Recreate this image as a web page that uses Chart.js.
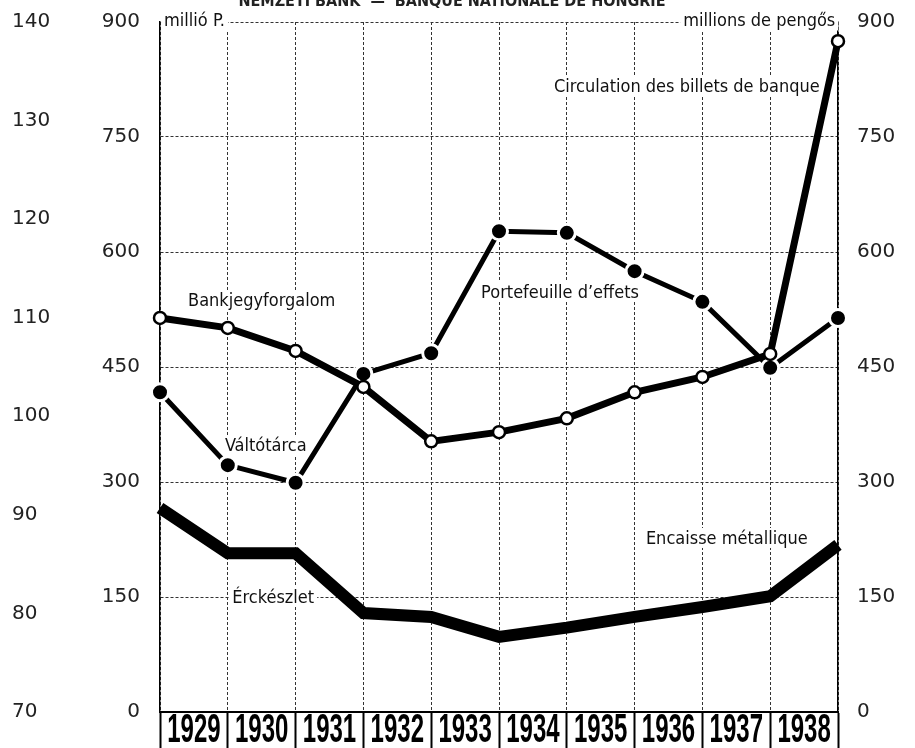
<!DOCTYPE html>
<html>
<head>
<meta charset="utf-8">
<title>Magyar Nemzeti Bank</title>
<script src="https://cdn.jsdelivr.net/npm/chart.js@4.4.1/dist/chart.umd.min.js"></script>
<style>
    html, body { margin: 0; padding: 0; background: #fff; }
    #wrap { width: 915px; height: 748px; }
</style>
</head>
<body>
<div id="wrap"><canvas id="mnbChart" width="915" height="748"></canvas></div>
<script>
// Adatok (millió pengő), év végi állapot: x = 0 -> 1928 vége, x = 10 -> 1938 vége
const years = ['1929', '1930', '1931', '1932', '1933', '1934', '1935', '1936', '1937', '1938'];
const yearEnds = [0, 1, 2, 3, 4, 5, 6, 7, 8, 9, 10];
const bankjegyforgalom = [514, 501, 471, 424, 353, 365, 383, 417, 437, 467, 875];
const valtotarca = [417, 322, 299, 441, 468, 627, 625, 575, 535, 449, 514];
const erckeszlet = [266, 207, 207, 129, 124, 98, 110, 124, 137, 151, 218];

// Tengely beosztások
const millioTicks = { min: 0, max: 900, step: 150 };
const indexTicks = { min: 70, max: 140, step: 10 };

const labelFont = '18px "Liberation Sans Narrow", "DejaVu Sans Condensed", "Arial Narrow", sans-serif';
const tickFont = { family: '"DejaVu Sans", sans-serif', size: 20 };

function toPoints(values) {
    return values.map((v, i) => ({ x: yearEnds[i], y: v }));
}

// Feliratok a rajzterületen (érték-koordinátákban)
const notes = [
    { text: 'Bankjegyforgalom', x: 1.50, y: 537, align: 'center' },
    { text: 'Váltótárca', x: 1.56, y: 348, align: 'center' },
    { text: 'Portefeuille d\u2019effets', x: 5.90, y: 548, align: 'center' },
    { text: 'Circulation des billets de banque', x: 9.73, y: 816, align: 'right' },
    { text: 'Encaisse métallique', x: 8.36, y: 227, align: 'center' },
    { text: 'Érckészlet', x: 1.67, y: 150, align: 'center' },
    { text: 'millió P.', x: 0.06, y: 902, align: 'left' },
    { text: 'millions de pengős', x: 9.96, y: 902, align: 'right' }
];

const notesPlugin = {
    id: 'notes',
    beforeDatasetsDraw(chart) {
        const ctx = chart.ctx;
        const xs = chart.scales.x;
        const ys = chart.scales.y;
        ctx.save();
        ctx.font = labelFont;
        ctx.textBaseline = 'middle';
        notes.forEach(n => {
            const px = xs.getPixelForValue(n.x);
            const py = ys.getPixelForValue(n.y);
            const w = ctx.measureText(n.text).width;
            let left = px;
            if (n.align === 'center') left = px - w / 2;
            if (n.align === 'right') left = px - w;
            ctx.fillStyle = '#fff';
            ctx.fillRect(left - 3, py - 10, w + 6, 20);
            ctx.fillStyle = '#111';
            ctx.textAlign = 'left';
            ctx.fillText(n.text, left, py + 1);
        });
        ctx.restore();
    },
    afterDraw(chart) {
        const ctx = chart.ctx;
        const xs = chart.scales.x;
        const bottom = chart.chartArea.bottom;
        ctx.save();
        // Évszámok a doboz-sávban
        ctx.fillStyle = '#000';
        ctx.textAlign = 'center';
        ctx.textBaseline = 'middle';
        ctx.font = 'bold 40px "Liberation Sans", Arial, sans-serif';
        years.forEach((yr, i) => {
            const cx = xs.getPixelForValue(yearEnds[i] + 0.5);
            ctx.save();
            ctx.translate(cx, bottom + 19);
            ctx.scale(0.6, 1);
            ctx.fillText(yr, 0, 0);
            ctx.restore();
        });
        // Levágott cím a kép tetején
        ctx.font = 'bold 16px "Liberation Sans Narrow", "DejaVu Sans Condensed", sans-serif';
        ctx.fillStyle = '#222';
        ctx.textBaseline = 'alphabetic';
        ctx.fillText('NEMZETI BANK  \u2014  BANQUE NATIONALE DE HONGRIE', 452, 6);
        ctx.restore();
    }
};

document.addEventListener('DOMContentLoaded', function() {
    const ctx = document.getElementById('mnbChart');

    new Chart(ctx.getContext('2d'), {
        type: 'line',
        data: {
            datasets: [{
                label: 'Bankjegyforgalom',
                data: toPoints(bankjegyforgalom),
                borderColor: '#000',
                borderWidth: 7,
                pointRadius: 6,
                pointBorderWidth: 2.5,
                pointBackgroundColor: '#fff',
                pointBorderColor: '#000',
                tension: 0,
                clip: false
            }, {
                label: 'Váltótárca',
                data: toPoints(valtotarca),
                borderColor: '#000',
                borderWidth: 5,
                pointRadius: 8.5,
                pointBorderWidth: 3,
                pointBackgroundColor: '#000',
                pointBorderColor: '#fff',
                tension: 0,
                clip: false
            }, {
                label: 'Érckészlet',
                data: toPoints(erckeszlet),
                borderColor: '#000',
                borderWidth: 12,
                pointRadius: 0,
                borderJoinStyle: 'miter',
                borderCapStyle: 'butt',
                tension: 0,
                clip: false
            }]
        },
        options: {
            responsive: false,
            animation: false,
            layout: { padding: { top: 22, left: 12, right: 0, bottom: 0 } },
            plugins: {
                legend: { display: false },
                tooltip: { enabled: false }
            },
            scales: {
                x: {
                    type: 'linear',
                    min: 0,
                    max: 10,
                    afterFit: s => { s.height = 36; },
                    ticks: { stepSize: 1, display: false, autoSkip: false },
                    grid: {
                        color: '#333',
                        lineWidth: 1,
                        drawTicks: true,
                        tickLength: 36,
                        tickColor: '#000',
                        tickWidth: 2
                    },
                    border: { display: true, color: '#000', width: 2, dash: [3, 2] }
                },
                y: {
                    type: 'linear',
                    position: 'left',
                    weight: 0,
                    min: millioTicks.min,
                    max: millioTicks.max,
                    afterFit: s => { s.width = 78; },
                    ticks: { stepSize: millioTicks.step, padding: 0, color: '#222', font: tickFont },
                    grid: { color: '#333', lineWidth: 1, drawTicks: true, tickLength: 20, tickColor: 'transparent' },
                    border: { display: true, color: '#000', width: 1.5, dash: [3, 2] }
                },
                y2: {
                    type: 'linear',
                    position: 'left',
                    weight: 1,
                    min: indexTicks.min,
                    max: indexTicks.max,
                    afterFit: s => { s.width = 70; },
                    ticks: { stepSize: indexTicks.step, padding: 0, crossAlign: 'far', color: '#222', font: tickFont },
                    grid: { display: false, drawTicks: false },
                    border: { display: false }
                },
                y3: {
                    type: 'linear',
                    position: 'right',
                    min: millioTicks.min,
                    max: millioTicks.max,
                    afterFit: s => { s.width = 77; },
                    ticks: { stepSize: millioTicks.step, padding: 0, color: '#222', font: tickFont },
                    grid: { display: false, drawTicks: true, tickLength: 19, tickColor: 'transparent' },
                    border: { display: true, color: '#000', width: 1.5 }
                }
            }
        },
        plugins: [notesPlugin]
    });
});
</script>
</body>
</html>
